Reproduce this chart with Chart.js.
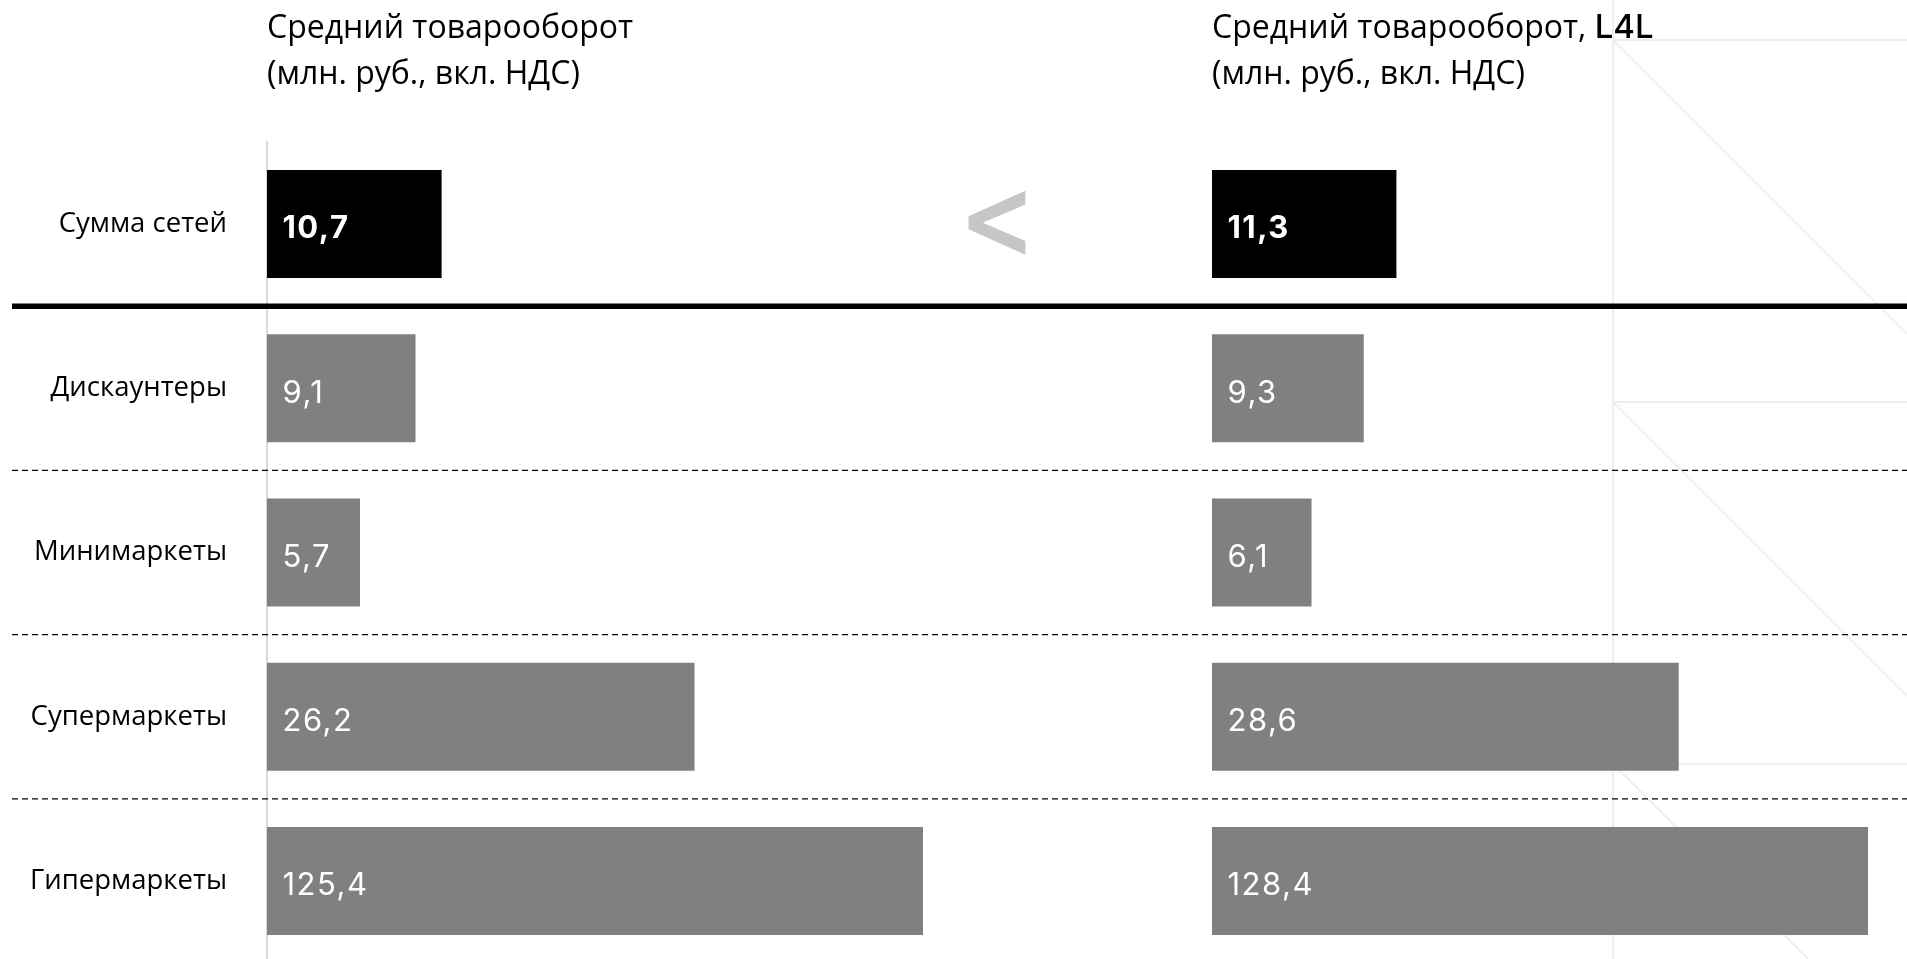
<!DOCTYPE html>
<html lang="ru">
<head>
<meta charset="utf-8">
<title>Средний товарооборот</title>
<script src="https://cdn.jsdelivr.net/npm/chart.js@4.4.1/dist/chart.umd.min.js"></script>
<style>
  html, body { margin: 0; padding: 0; background: #fff; overflow: hidden; }
  #wrap { position: relative; width: 1907px; height: 959px; overflow: hidden; }
  #wrap canvas { position: absolute; left: 0; top: 0; }
</style>
</head>
<body>
<div id="wrap">
  <canvas id="avgChart" width="1907" height="970"></canvas>
  <canvas id="l4lChart" width="1907" height="970"></canvas>
</div>
<script>
// Store formats, top to bottom
const categories = ['Сумма сетей', 'Дискаунтеры', 'Минимаркеты', 'Супермаркеты', 'Гипермаркеты'];
// Average turnover, mln RUB incl. VAT
const avgTurnover = [10.7, 9.1, 5.7, 26.2, 125.4];
// Average turnover, like-for-like stores
const l4lTurnover = [11.3, 9.3, 6.1, 28.6, 128.4];
// Value axis ends here; longer bars are cut off at the plot edge
const axisMax = 40.2;

const avgTitle = [[['Средний товарооборот', 'normal']], [['(млн. руб., вкл. НДС)', 'normal']]];
const l4lTitle = [[['Средний товарооборот, ', 'normal'], ['L4L', 'accent']], [['(млн. руб., вкл. НДС)', 'normal']]];

const TEXT_FONT = '"Open Sans", "Noto Sans", sans-serif';
const NUM_FONT = 'Inter, "Open Sans", sans-serif';
const barColor = i => (i === 0 ? '#000000' : '#808080');
const fmt = v => v.toFixed(1).replace('.', ',');

// Faint geometric ornament in the right part of the slide
const ornament = {
  id: 'ornament',
  beforeDraw(chart) {
    const ctx = chart.ctx, W = chart.width, H = chart.height, x0 = 1613;
    ctx.save();
    ctx.strokeStyle = '#eeeeee';
    ctx.lineWidth = 2;
    ctx.beginPath();
    ctx.moveTo(x0, 0);
    ctx.lineTo(x0, H);
    [40, 402, 764].forEach(y0 => {
      ctx.moveTo(x0, y0);
      ctx.lineTo(W, y0);
      const d = Math.min(W - x0, H - y0);
      ctx.moveTo(x0, y0);
      ctx.lineTo(x0 + d, y0 + d);
    });
    ctx.stroke();
    ctx.restore();
  }
};

// Row separators across the whole slide: heavy under the total, dashed between formats
const rowSeparators = {
  id: 'rowSeparators',
  afterDraw(chart) {
    const ctx = chart.ctx, y = chart.scales.y;
    const half = (y.getPixelForValue(1) - y.getPixelForValue(0)) / 2;
    ctx.save();
    ctx.strokeStyle = '#000';
    for (let i = 0; i < categories.length - 1; i++) {
      const py = y.getPixelForValue(i) + half;
      ctx.beginPath();
      if (i === 0) {
        ctx.lineWidth = 5.5;
        ctx.setLineDash([]);
      } else {
        ctx.lineWidth = 1.3;
        ctx.setLineDash([6, 4]);
      }
      ctx.moveTo(12, py);
      ctx.lineTo(chart.width, py);
      ctx.stroke();
    }
    ctx.restore();
  }
};

// Grey "<" between the two totals
const compareSign = {
  id: 'compareSign',
  afterDraw(chart) {
    const ctx = chart.ctx;
    ctx.save();
    ctx.font = 'bold 100px "DejaVu Sans", sans-serif';
    const m = ctx.measureText('<');
    const gw = m.actualBoundingBoxLeft + m.actualBoundingBoxRight;
    const gh = m.actualBoundingBoxAscent + m.actualBoundingBoxDescent;
    const box = { x: 968, y: 191, w: 58, h: 65 };
    ctx.translate(box.x, box.y);
    ctx.scale(box.w / gw, box.h / gh);
    ctx.fillStyle = '#c6c6c6';
    ctx.textAlign = 'left';
    ctx.textBaseline = 'alphabetic';
    ctx.fillText('<', m.actualBoundingBoxLeft, m.actualBoundingBoxAscent);
    ctx.restore();
  }
};

// White value labels at the start of each bar
const valueLabels = {
  id: 'valueLabels',
  afterDatasetsDraw(chart) {
    const ctx = chart.ctx;
    const meta = chart.getDatasetMeta(0);
    const values = chart.data.datasets[0].data;
    ctx.save();
    ctx.fillStyle = '#ffffff';
    ctx.textAlign = 'left';
    ctx.textBaseline = 'middle';
    if ('letterSpacing' in ctx) ctx.letterSpacing = '1.5px';
    meta.data.forEach((bar, i) => {
      ctx.font = (i === 0 ? '700 ' : '400 ') + '31px ' + NUM_FONT;
      ctx.fillText(fmt(values[i]), chart.chartArea.left + 15.5, bar.y + 5);
    });
    ctx.restore();
  }
};

// Two-line panel heading above the bars
function panelTitle(lines) {
  return {
    id: 'panelTitle',
    afterDraw(chart) {
      const ctx = chart.ctx;
      const baselines = [38, 84];
      ctx.save();
      ctx.fillStyle = '#000';
      ctx.textAlign = 'left';
      ctx.textBaseline = 'alphabetic';
      lines.forEach((parts, li) => {
        let x = chart.chartArea.left;
        parts.forEach(([text, kind]) => {
          ctx.font = kind === 'accent' ? '500 33px ' + NUM_FONT : '400 32px ' + TEXT_FONT;
          ctx.fillText(text, x, baselines[li]);
          x += ctx.measureText(text).width;
        });
      });
      ctx.restore();
    }
  };
}

function barDataset(values) {
  return {
    data: values,
    backgroundColor: values.map((_, i) => barColor(i)),
    borderWidth: 0,
    categoryPercentage: 1,
    barPercentage: 0.658,
    clip: 0
  };
}

const common = {
  indexAxis: 'y',
  responsive: false,
  animation: false,
  events: [],
  plugins: { legend: { display: false }, tooltip: { enabled: false }, title: { display: false } }
};

new Chart(document.getElementById('avgChart'), {
  type: 'bar',
  data: { labels: categories, datasets: [barDataset(avgTurnover)] },
  options: {
    ...common,
    layout: { padding: { top: 142, bottom: 7, left: 0, right: 984 } },
    scales: {
      x: { display: false, min: 0, max: axisMax },
      y: {
        position: 'left',
        grid: { display: false, drawTicks: false },
        border: { display: true, color: '#d9d9d9', width: 2 },
        ticks: { padding: 40, color: '#000', font: { family: TEXT_FONT, size: 27.5 } },
        afterFit(scale) {
          // fixed label column; labels sit inside the band, so no extra end padding
          scale.width = 267;
          scale.paddingTop = 0;
          scale.paddingBottom = 0;
        }
      }
    }
  },
  plugins: [ornament, rowSeparators, compareSign, valueLabels, panelTitle(avgTitle)]
});

new Chart(document.getElementById('l4lChart'), {
  type: 'bar',
  data: { labels: categories, datasets: [barDataset(l4lTurnover)] },
  options: {
    ...common,
    layout: { padding: { top: 142, bottom: 7, left: 1212, right: 39 } },
    scales: {
      x: { display: false, min: 0, max: axisMax },
      y: { display: false }
    }
  },
  plugins: [valueLabels, panelTitle(l4lTitle)]
});
</script>
</body>
</html>
